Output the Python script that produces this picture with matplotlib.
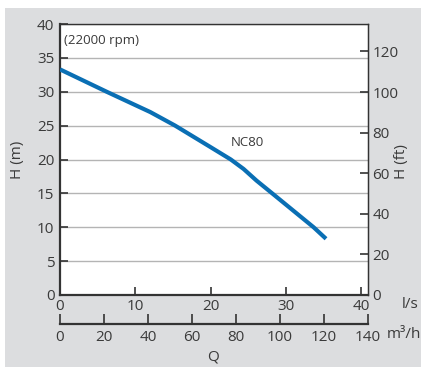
import numpy as np
import matplotlib
matplotlib.use('Agg')
import matplotlib.pyplot as plt
from matplotlib.patches import Rectangle

# curve: flow (l/s) vs head (m)
flow_ls = [0.0, 6.2, 12.0, 15.3, 19.9, 22.7, 24.4, 26.1, 28.2, 33.7, 35.35]
head_m = [33.3, 30.0, 27.0, 25.0, 21.9, 20.0, 18.6, 16.9, 15.0, 10.0, 8.3]

ls_ticks = [0, 10, 20, 30, 40]
m3h_ticks = [0, 20, 40, 60, 80, 100, 120, 140]
m_ticks = [0, 5, 10, 15, 20, 25, 30, 35, 40]
ft_ticks = [0, 20, 40, 60, 80, 100, 120]

curve_name = 'NC80'
speed_note = '(22000 rpm)'

X_MAX = 40.93   # l/s at right edge
FT_MAX = 133.5
TXT = '#3a3a3a'
BLUE = '#0a6fb4'
FS = 11

plt.rcParams['font.family'] = ['Open Sans', 'DejaVu Sans']

W, H = 421, 367
fig = plt.figure(figsize=(W / 100, H / 100), dpi=100)
fig.patch.set_facecolor('white')
fig.patches.append(Rectangle((5 / W, 0), 1, 1 - 8 / H, transform=fig.transFigure,
                             facecolor='#dcdddf', edgecolor='none', zorder=-10))

ax = fig.add_axes([60 / W, 1 - 295 / H, 308 / W, 271 / H])
ax.set_facecolor('white')
ax.plot(flow_ls, head_m, color=BLUE, lw=3.0, solid_capstyle='butt', zorder=3)

ax.set_xlim(0, X_MAX)
ax.set_ylim(0, 40)
ax.set_xticks(ls_ticks)
ax.set_yticks(m_ticks)
ax.yaxis.grid(True, color='#b4b4b4', lw=1.0)
ax.set_axisbelow(True)
ax.tick_params(direction='in', length=6, width=1.2, color='#333333',
               labelsize=FS, labelcolor=TXT)
ax.tick_params(axis='y', pad=4)
ax.tick_params(axis='x', pad=3)
for s in ax.spines.values():
    s.set_color('#333333')
    s.set_linewidth(1.0)
ax.spines['left'].set_linewidth(1.6)
ax.spines['bottom'].set_linewidth(1.6)

ax.text(0.55, 37.5, speed_note, fontsize=9.5, color=TXT, va='center', ha='left')
ax.text(24.85, 22.5, curve_name, fontsize=9.5, color=TXT, va='center', ha='center')

# right axis in feet
ax2 = ax.twinx()
ax2.set_ylim(0, FT_MAX)
ax2.set_yticks(ft_ticks)
ax2.tick_params(direction='in', length=6, width=1.2, color='#333333',
                labelsize=FS, labelcolor=TXT, pad=3)
for s in ax2.spines.values():
    s.set_visible(False)
ax2.spines['right'].set_visible(True)
ax2.spines['right'].set_color('#333333')

# lower axis in m3/h
k = 140 / X_MAX
sec = ax.secondary_xaxis(-29 / 271, functions=(lambda x: x * k, lambda x: x / k))
sec.set_xticks(m3h_ticks)
sec.tick_params(direction='in', length=7, width=1.2, color='#333333',
                labelsize=FS, labelcolor=TXT, pad=4)
sec.spines['bottom'].set_color('#333333')
sec.spines['bottom'].set_linewidth(1.6)

fig.text(17 / W, 1 - 160 / H, 'H (m)', fontsize=FS, color=TXT, rotation=90,
         va='center', ha='center')
fig.text(402 / W, 1 - 162 / H, 'H (ft)', fontsize=FS, color=TXT, rotation=90,
         va='center', ha='center')
fig.text(402 / W, 1 - 305 / H, 'l/s', fontsize=FS, color=TXT, va='center', ha='left')
fig.text(387 / W, 1 - 335 / H, 'm³/h', fontsize=FS, color=TXT, va='center', ha='left')
fig.text(213 / W, 1 - 357 / H, 'Q', fontsize=FS, color=TXT, va='center', ha='center')

fig.savefig('out.png', dpi=100)
